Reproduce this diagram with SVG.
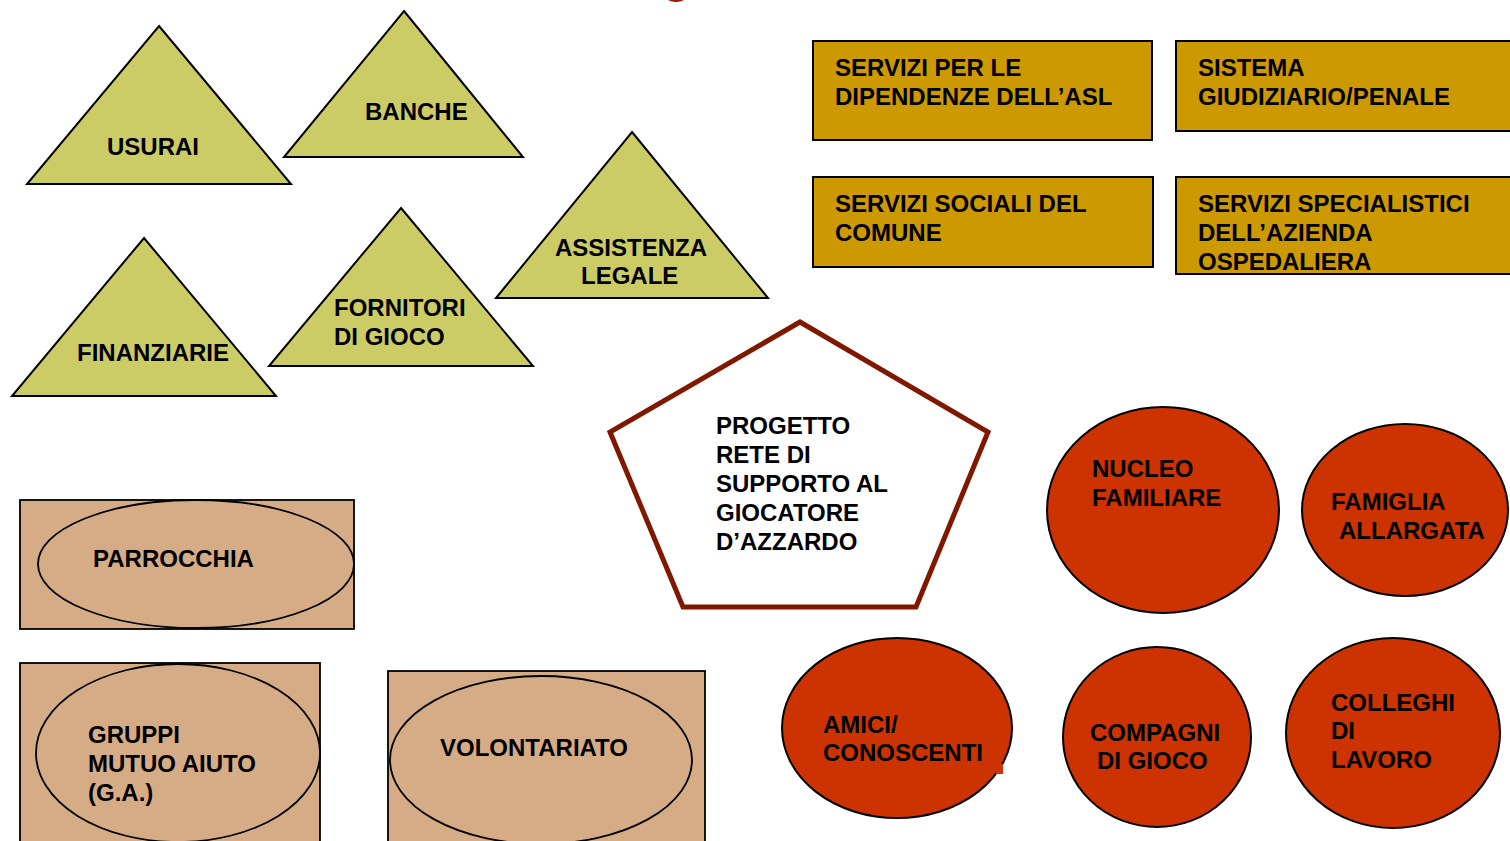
<svg xmlns="http://www.w3.org/2000/svg" width="1510" height="841" viewBox="0 0 1510 841">
<style>
text{font-family:"Liberation Sans",Arial,sans-serif;font-weight:bold;font-size:24px;fill:#000}
.tri{fill:#CCCC66;stroke:#000;stroke-width:2;stroke-linejoin:miter}
.gold{fill:#CC9900;stroke:#000;stroke-width:2}
.tan{fill:#D6AC86;stroke:#000;stroke-width:1.8}
.red{fill:#CC3300;stroke:#000;stroke-width:2}
.pent{fill:#fff;stroke:#801800;stroke-width:5;stroke-linejoin:miter}
</style>
<rect width="1510" height="841" fill="#fff"/>
<ellipse cx="676" cy="-9" rx="14" ry="11" fill="#9E1A0E"/>
<g id="connectors"></g>
<g id="usurai"><polygon class="tri" points="159,26 291,184 27,184"/><text x="107" y="155">USURAI</text></g>
<g id="banche"><polygon class="tri" points="404,11 523,157 284,157"/><text x="365" y="120">BANCHE</text></g>
<g id="assistenza"><polygon class="tri" points="632,132 768,298 496,298"/><text x="555" y="256">ASSISTENZA</text><text x="581" y="284">LEGALE</text></g>
<g id="finanziarie"><polygon class="tri" points="144,238 276,396 12,396"/><text x="77" y="361">FINANZIARIE</text></g>
<g id="fornitori"><polygon class="tri" points="401,208 533,366 269,366"/><text x="334" y="316">FORNITORI</text><text x="334" y="345">DI GIOCO</text></g>
<g id="asl"><rect class="gold" x="813" y="41" width="339" height="99"/><text x="835" y="76">SERVIZI PER LE</text><text x="835" y="105">DIPENDENZE DELL’ASL</text></g>
<g id="giudiziario"><rect class="gold" x="1176" y="41" width="340" height="90"/><text x="1198" y="76">SISTEMA</text><text x="1198" y="105">GIUDIZIARIO/PENALE</text></g>
<g id="sociali"><rect class="gold" x="813" y="177" width="340" height="90"/><text x="835" y="212">SERVIZI SOCIALI DEL</text><text x="835" y="241">COMUNE</text></g>
<g id="specialistici"><rect class="gold" x="1176" y="177" width="340" height="97"/><text x="1198" y="212">SERVIZI SPECIALISTICI</text><text x="1198" y="241">DELL’AZIENDA</text><text x="1198" y="270">OSPEDALIERA</text></g>
<g id="progetto"><polygon class="pent" points="800,322 988,432 916,607 683,607 610,432"/><text x="716" y="434">PROGETTO</text><text x="716" y="463">RETE DI</text><text x="716" y="492">SUPPORTO AL</text><text x="716" y="521">GIOCATORE</text><text x="716" y="550">D’AZZARDO</text></g>
<g id="parrocchia"><rect class="tan" x="20" y="500" width="334" height="129"/><ellipse class="tan" cx="196" cy="564" rx="158" ry="64"/><text x="93" y="567">PARROCCHIA</text></g>
<g id="gruppi"><rect class="tan" x="20" y="663" width="300" height="190"/><ellipse class="tan" cx="178" cy="753" rx="142" ry="89"/><text x="88" y="743">GRUPPI</text><text x="88" y="772">MUTUO AIUTO</text><text x="88" y="801">(G.A.)</text></g>
<g id="volontariato"><rect class="tan" x="388" y="671" width="317" height="182"/><ellipse class="tan" cx="541" cy="760" rx="151" ry="84"/><text x="440" y="756">VOLONTARIATO</text></g>
<g id="nucleo"><ellipse class="red" cx="1163" cy="510" rx="116" ry="103"/><text x="1092" y="477">NUCLEO</text><text x="1092" y="506">FAMILIARE</text></g>
<g id="famiglia"><ellipse class="red" cx="1405" cy="510" rx="103" ry="86"/><text x="1331" y="510">FAMIGLIA</text><text x="1339" y="539">ALLARGATA</text></g>
<g id="amici"><ellipse class="red" cx="897" cy="728" rx="115" ry="90"/><rect x="996" y="764" width="7" height="10" fill="#CC3300"/><text x="823" y="733">AMICI/</text><text x="823" y="761">CONOSCENTI</text></g>
<g id="compagni"><ellipse class="red" cx="1157" cy="737" rx="94" ry="90"/><text x="1090" y="741">COMPAGNI</text><text x="1097" y="769">DI GIOCO</text></g>
<g id="colleghi"><ellipse class="red" cx="1393" cy="733" rx="107" ry="95"/><text x="1331" y="711">COLLEGHI</text><text x="1331" y="739">DI</text><text x="1331" y="768">LAVORO</text></g>
</svg>
